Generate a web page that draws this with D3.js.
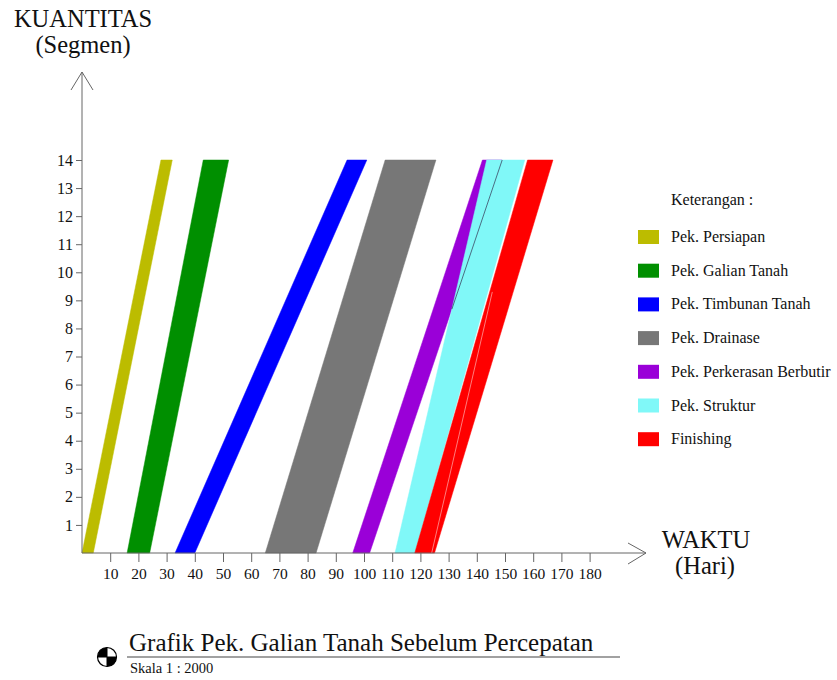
<!DOCTYPE html>
<html><head><meta charset="utf-8">
<script src="https://cdn.jsdelivr.net/npm/d3@7"></script>
<style>
body{margin:0;background:#fff}
text{font-family:"Liberation Serif","Times New Roman",serif;fill:#111}
</style>
</head><body>
<svg id="chart" width="837" height="680"></svg>
<script>
// ---- data ----
const activities = ["Pek. Persiapan","Pek. Galian Tanah","Pek. Timbunan Tanah","Pek. Drainase","Pek. Perkerasan Berbutir","Pek. Struktur","Finishing"];
const colors = ["#bcbc00","#008f00","#0000ff","#777777","#9a00d8","#80f8f8","#ff0000"];
// start / finish lines (days) at segment 0 (bottom) and segment 14 (top)
const startBottom  = [0, 16, 33, 65, 96, 111, 118];
const startTop     = [28, 43, 94, 107.5, 142, 143.5, 158];
const finishBottom = [4, 24, 40, 83, 102, 118, 125];
const finishTop    = [32, 52, 101, 125.5, 149, 157, 167];
const segmentTicks = [1,2,3,4,5,6,7,8,9,10,11,12,13,14];
const dayTicks = [10,20,30,40,50,60,70,80,90,100,110,120,130,140,150,160,170,180];
const finishingSeam = [[124,0],[145.5,9.3]];
const maxSegment = 14;

// ---- scales ----
const svg = d3.select("#chart");
const x = d3.scaleLinear().domain([0,180]).range([82,589.6]);
const y = d3.scaleLinear().domain([0,maxSegment]).range([553,160]);
const axisColor = "#666";
const serif = "'Liberation Serif','Times New Roman',serif";

// ---- bands ----
const bands = activities.map((a,i)=>({name:a,color:colors[i],
  pts:[[startBottom[i],0],[finishBottom[i],0],[finishTop[i],maxSegment],[startTop[i],maxSegment]]}));
svg.append("g").selectAll("polygon").data(bands).join("polygon")
  .attr("points",d=>d.pts.map(p=>[x(p[0]),y(p[1])].join(",")).join(" "))
  .attr("fill",d=>d.color).attr("stroke",d=>d.color).attr("stroke-width",0.5);

// purple finish line visible through cyan band
const pi = 4, ci = 5;
const sCross = maxSegment*(startBottom[ci]-finishBottom[pi])/((finishTop[pi]-finishBottom[pi])-(startTop[ci]-startBottom[ci]));
const pLine = s => finishBottom[pi] + (finishTop[pi]-finishBottom[pi])*s/maxSegment;
svg.append("line")
  .attr("x1",x(pLine(sCross))).attr("y1",y(sCross))
  .attr("x2",x(pLine(maxSegment))).attr("y2",y(maxSegment))
  .attr("stroke","#3c4a66").attr("stroke-width",0.8);
// light seam inside finishing band
svg.append("line")
  .attr("x1",x(finishingSeam[0][0])).attr("y1",y(finishingSeam[0][1]))
  .attr("x2",x(finishingSeam[1][0])).attr("y2",y(finishingSeam[1][1]))
  .attr("stroke","#ffb0b0").attr("stroke-width",0.7);

// ---- axes ----
const ax = svg.append("g").attr("stroke",axisColor).attr("stroke-width",1).attr("fill","none");
ax.append("line").attr("x1",82).attr("y1",553).attr("x2",646).attr("y2",553);
ax.append("path").attr("d","M628,543 L646,553 L628,564");
ax.append("line").attr("x1",82).attr("y1",553).attr("x2",82).attr("y2",72);
ax.append("path").attr("d","M71,90 L82,72 L93,90");

const xAxis = svg.append("g").attr("transform","translate(0,553)")
  .call(d3.axisBottom(x).tickValues(dayTicks).tickSize(9).tickSizeOuter(0).tickPadding(6));
xAxis.attr("font-family",serif);
xAxis.select(".domain").remove();
xAxis.selectAll("line").attr("stroke",axisColor);
xAxis.selectAll("text").attr("font-size",15.5).attr("fill","#111").style("font-family",serif);

const yAxis = svg.append("g").attr("transform","translate(82,0)")
  .call(d3.axisLeft(y).tickValues(segmentTicks).tickSize(6).tickSizeOuter(0).tickPadding(3));
yAxis.attr("font-family",serif);
yAxis.select(".domain").remove();
yAxis.selectAll("line").attr("stroke",axisColor);
yAxis.selectAll("text").attr("font-size",16).attr("fill","#111").style("font-family",serif);

// axis titles
svg.append("text").attr("x",83).attr("y",27).attr("text-anchor","middle").attr("font-size",24.5).text("KUANTITAS");
svg.append("text").attr("x",83).attr("y",53).attr("text-anchor","middle").attr("font-size",24.5).text("(Segmen)");
svg.append("text").attr("x",706).attr("y",548).attr("text-anchor","middle").attr("font-size",24.5).text("WAKTU");
svg.append("text").attr("x",705).attr("y",574).attr("text-anchor","middle").attr("font-size",24.5).text("(Hari)");

// ---- legend ----
svg.append("text").attr("x",671).attr("y",205).attr("font-size",16).text("Keterangan :");
const lg = svg.append("g").selectAll("g").data(bands).join("g")
  .attr("transform",(d,i)=>`translate(638,${237+i*33.7})`);
lg.append("rect").attr("x",0).attr("y",-7).attr("width",21).attr("height",14).attr("fill",d=>d.color);
lg.append("text").attr("x",33).attr("y",5).attr("font-size",16).text(d=>d.name);

// ---- title block ----
svg.append("text").attr("x",129).attr("y",651).attr("font-size",25).text("Grafik Pek. Galian Tanah Sebelum Percepatan");
svg.append("line").attr("x1",127).attr("y1",657).attr("x2",620).attr("y2",657).attr("stroke","#444").attr("stroke-width",1.2);
svg.append("text").attr("x",130).attr("y",673).attr("font-size",14.5).text("Skala 1 : 2000");
const sym = svg.append("g").attr("transform","translate(107,657)");
const arc = d3.arc().innerRadius(0).outerRadius(9.5);
sym.append("path").attr("d",arc({startAngle:-Math.PI/2,endAngle:0})).attr("fill","#000");
sym.append("path").attr("d",arc({startAngle:Math.PI/2,endAngle:Math.PI})).attr("fill","#000");
sym.append("circle").attr("r",9.5).attr("fill","none").attr("stroke","#000").attr("stroke-width",1.2);
sym.append("line").attr("x1",-9.5).attr("x2",9.5).attr("stroke","#000").attr("stroke-width",1);
sym.append("line").attr("y1",-9.5).attr("y2",9.5).attr("stroke","#000").attr("stroke-width",1);
</script>
</body></html>
